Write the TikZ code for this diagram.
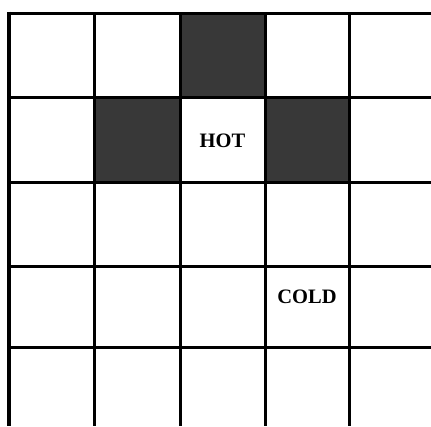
\documentclass[tikz,border=0pt]{standalone}
\usepackage{fontspec}
\setmainfont{Liberation Serif}
\begin{document}
\begin{tikzpicture}[x=1pt,y=-1pt,
  gridline/.style={line width=3pt,black},
  hotcell/.style={fill=black!78},
  lbl/.style={font=\bfseries\fontsize{20.5}{24}\selectfont,inner sep=0pt}]
\useasboundingbox (0,0) rectangle (431,426);
% shaded cells
\fill[hotcell] (180,13) rectangle (265,97.5);
\fill[hotcell] (94,97.5) rectangle (180,182);
\fill[hotcell] (265,97.5) rectangle (349,182);
% horizontal lines
\foreach \y in {13,97.5,182,266,347}
  \draw[gridline] (9,\y) -- (431,\y);
% vertical lines
\draw[line width=3.5pt] (9,11.5) -- (9,426);
\foreach \x in {94,180,265,349}
  \draw[gridline] (\x,13) -- (\x,426);
% labels
\node[lbl] (hot) at (222.5,141) {HOT};
\node[lbl] (cold) at (307,297) {COLD};
\end{tikzpicture}
\end{document}
